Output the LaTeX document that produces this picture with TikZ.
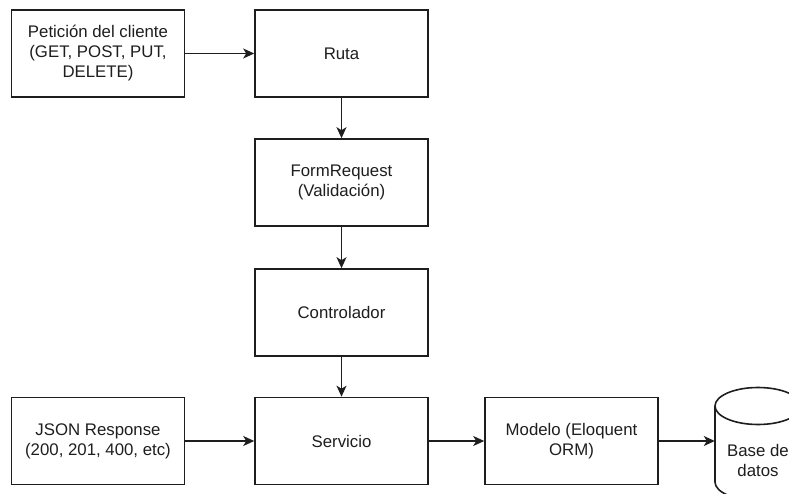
\documentclass[tikz,border=0pt]{standalone}
\usepackage{fontspec}
\setmainfont{Liberation Sans}
\usetikzlibrary{arrows.meta}
\definecolor{ink}{HTML}{1E1E1E}
\begin{document}
\begin{tikzpicture}[x=1pt,y=-1pt,
  box/.style={draw=ink,line width=1.6pt,fill=white,minimum width=173pt,minimum height=87pt,
    inner sep=0pt,align=center,text=ink,
    font=\fontsize{16.8pt}{20pt}\selectfont},
  flow/.style={draw=ink,line width=1.5pt,-{Stealth[length=11pt,width=10pt,inset=3pt]}}]
  \path[use as bounding box,fill=white] (0,0) rectangle (789,494);

  % main column and side boxes
  \node[box] (cli) at (98,53.5) {Petición del cliente\\(GET, POST, PUT,\\DELETE)};
  \node[box] (ruta) at (341.5,53.5) {Ruta};
  \node[box] (form) at (341.5,182.5) {FormRequest\\(Validación)};
  \node[box] (ctrl) at (341.5,312.5) {Controlador};
  \node[box] (serv) at (341.5,441) {Servicio};
  \node[box] (json) at (98,441) {JSON Response\\(200, 201, 400, etc)};
  \node[box] (mod) at (571.5,441) {Modelo (Eloquent\\ORM)};

  % database cylinder, partly outside the frame
  \node[minimum width=86pt,minimum height=112pt,inner sep=0pt] (db) at (758,444) {};
  \begin{scope}
    \clip (0,0) rectangle (789,494);
    \draw[ink,line width=1.6pt,fill=white]
      (715,406) -- (715,482) arc[start angle=180,end angle=360,x radius=43,y radius=-18.5]
      -- (801,406) arc[start angle=0,end angle=180,x radius=43,y radius=-18.5] -- cycle;
    \draw[ink,line width=1.6pt] (715,406) arc[start angle=180,end angle=360,x radius=43,y radius=-18.5];
  \end{scope}
  \node[text=ink,align=center,font=\fontsize{16.8pt}{20pt}\selectfont] (dbt) at (758,460) {Base de\\datos};

  % connectors
  \draw[flow] (cli) -- (ruta);
  \draw[flow] (ruta) -- (form);
  \draw[flow] (form) -- (ctrl);
  \draw[flow] (ctrl) -- (serv);
  \draw[flow] (json) -- (serv);
  \draw[flow] (serv) -- (mod);
  \draw[flow] (mod) -- (mod -| db.west);
\end{tikzpicture}
\end{document}
